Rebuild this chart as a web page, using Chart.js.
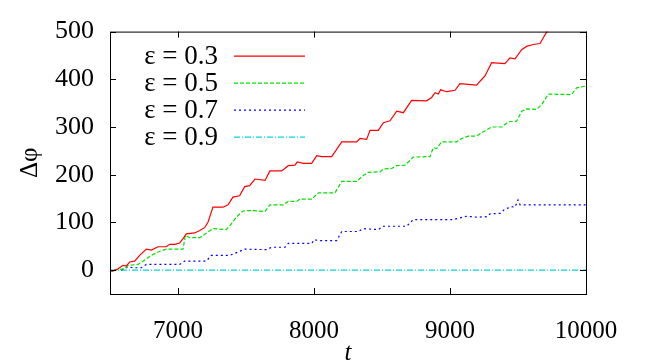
<!DOCTYPE html>
<html>
<head>
<meta charset="utf-8">
<script src="https://cdn.jsdelivr.net/npm/chart.js@4.4.1/dist/chart.umd.min.js"></script>
<style>
  body { margin: 0; background: #fff; }
  #wrap { width: 648px; height: 362px; }
</style>
</head>
<body>
<div id="wrap"><canvas id="chart"></canvas></div>
<script>
// eps = 0.3
const t03 = [6510, 6559, 6596, 6620, 6645, 6681, 6718, 6767, 6804, 6853, 6914, 6939, 6976, 7012, 7037, 7061,
    7123, 7160, 7196, 7221, 7257, 7331, 7368, 7404, 7453, 7490, 7527, 7566, 7640, 7676, 7762, 7811, 7860,
    7877, 7922, 7983, 8020, 8057, 8130, 8204, 8314, 8338, 8387, 8412, 8473, 8510, 8559, 8608, 8657, 8718,
    8828, 8865, 8890, 8914, 8931, 8976, 9037, 9073, 9196, 9221, 9257, 9306, 9404, 9441, 9478, 9527, 9563,
    9612, 9662, 9686, 9711, 9760];
const phi03 = [-3, 3, 10, 9, 17, 19, 31, 44, 42, 49, 49, 54, 54, 57, 66, 76,
    78, 83, 89, 101, 132, 132, 137, 153, 156, 175, 177, 191, 188, 208, 208, 219, 220,
    227, 224, 224, 240, 238, 238, 269, 269, 276, 274, 293, 293, 309, 313, 333, 330, 356,
    355, 362, 372, 369, 378, 374, 377, 391, 388, 396, 407, 435, 433, 445, 443, 462, 469,
    473, 475, 487, 499, 515];

// eps = 0.5
const t05 = [6530, 6608, 6632, 6706, 6755, 6804, 6853, 6914, 7037, 7054, 7086, 7160, 7196, 7257, 7355, 7392,
    7429, 7478, 7529, 7640, 7676, 7774, 7811, 7873, 7897, 7983, 8032, 8154, 8204, 8314, 8351, 8399, 8485,
    8510, 8571, 8608, 8669, 8730, 8853, 8877, 8902, 8939, 9049, 9086, 9135, 9196, 9233, 9270, 9306, 9380,
    9429, 9490, 9527, 9563, 9637, 9674, 9723, 9894, 9931, 10000];
const phi05 = [0, 3, 10, 12, 21, 31, 38, 44, 44, 73, 68, 68, 75, 87, 85, 97,
    111, 124, 125, 123, 137, 137, 144, 144, 149, 149, 162, 162, 186, 186, 196, 205, 206,
    212, 213, 219, 220, 237, 238, 257, 255, 269, 269, 276, 281, 281, 288, 294, 300, 300,
    311, 312, 333, 338, 337, 347, 369, 368, 382, 386];

// eps = 0.7
const t07 = [6583, 6632, 6669, 6730, 6767, 7012, 7049, 7208, 7245, 7380, 7417, 7490, 7652, 7689, 7787, 7811,
    7983, 8002, 8032, 8167, 8204, 8326, 8363, 8473, 8510, 8681, 8730, 9024, 9123, 9196, 9270, 9294, 9368,
    9404, 9453, 9478, 9500, 9515, 10000];
const phi07 = [0, 7, 5, 5, 12, 12, 19, 19, 31, 31, 35, 44, 43, 48, 48, 56,
    56, 64, 62, 62, 81, 81, 87, 85, 92, 92, 106, 106, 113, 111, 112, 118, 119,
    128, 133, 132, 147, 137, 137];

// eps = 0.9
const t09 = [6500, 10000];
const phi09 = [0, 0];

const seriesLabels = ['ε = 0.3', 'ε = 0.5', 'ε = 0.7', 'ε = 0.9'];
const xTicks = [7000, 8000, 9000, 10000];
const yTicks = [0, 100, 200, 300, 400, 500];

const serif = '"Liberation Serif", "DejaVu Serif", serif';

function pts(ts, vs) {
    return ts.map((t, i) => ({ x: t, y: vs[i] }));
}

function makeSet(label, ts, vs, color, dash) {
    return {
        label,
        data: pts(ts, vs),
        borderColor: color,
        backgroundColor: color,
        borderWidth: 1.2,
        borderDash: dash,
        pointRadius: 0,
        tension: 0,
        fill: false
    };
}

// frame with inward ticks + legend drawn gnuplot style (text left, sample right)
const framePlugin = {
    id: 'frame',
    afterDraw(chart) {
        const { ctx, chartArea: a, scales } = chart;
        ctx.save();
        ctx.strokeStyle = '#000';
        ctx.lineWidth = 1;
        ctx.setLineDash([]);
        ctx.strokeRect(a.left + 0.5, a.top + 0.5, a.right - a.left, a.bottom - a.top);
        ctx.beginPath();
        xTicks.forEach(v => {
            const px = Math.round(scales.x.getPixelForValue(v)) + 0.5;
            ctx.moveTo(px, a.bottom); ctx.lineTo(px, a.bottom - 6);
            ctx.moveTo(px, a.top); ctx.lineTo(px, a.top + 6);
        });
        yTicks.forEach(v => {
            const py = Math.round(scales.y.getPixelForValue(v)) + 0.5;
            ctx.moveTo(a.left, py); ctx.lineTo(a.left + 6, py);
            ctx.moveTo(a.right, py); ctx.lineTo(a.right - 6, py);
        });
        ctx.stroke();

        // legend
        ctx.font = '27px ' + serif;
        ctx.textAlign = 'right';
        ctx.textBaseline = 'middle';
        chart.data.datasets.forEach((ds, i) => {
            const y = a.top + 24 + i * 27;
            ctx.fillStyle = '#000';
            ctx.fillText(ds.label, a.left + 108, y + 1);
            ctx.strokeStyle = ds.borderColor;
            ctx.lineWidth = 1.2;
            ctx.setLineDash(ds.borderDash || []);
            ctx.beginPath();
            ctx.moveTo(a.left + 124, y + 0.5);
            ctx.lineTo(a.left + 195, y + 0.5);
            ctx.stroke();
        });
        ctx.restore();
    }
};

new Chart(document.getElementById('chart'), {
    type: 'line',
    data: {
        datasets: [
            makeSet(seriesLabels[0], t03, phi03, '#ff0000', []),
            makeSet(seriesLabels[1], t05, phi05, '#00e000', [4, 2]),
            makeSet(seriesLabels[2], t07, phi07, '#0000ff', [2, 3]),
            makeSet(seriesLabels[3], t09, phi09, '#00d8e0', [6, 2, 1, 2])
        ]
    },
    options: {
        responsive: true,
        maintainAspectRatio: false,
        animation: false,
        devicePixelRatio: 1,
        layout: { padding: { top: 30, right: 62, left: 0, bottom: 0 } },
        plugins: {
            legend: { display: false },
            tooltip: { enabled: false }
        },
        scales: {
            x: {
                type: 'linear',
                min: 6500,
                max: 10000,
                afterBuildTicks: s => { s.ticks = xTicks.map(v => ({ value: v })); },
                afterFit: s => { s.height = 68; },
                grid: { display: false, drawTicks: false },
                border: { display: false },
                ticks: {
                    padding: 22,
                    color: '#000',
                    font: { family: serif, size: 25 },
                    maxRotation: 0,
                    callback: v => String(v)
                },
                title: {
                    display: true,
                    text: 't',
                    color: '#000',
                    font: { family: serif, size: 25, style: 'italic' },
                    padding: { top: 0, bottom: -6 }
                }
            },
            y: {
                type: 'linear',
                min: -50,
                max: 500,
                afterBuildTicks: s => { s.ticks = yTicks.map(v => ({ value: v })); },
                afterFit: s => { s.width = 110; },
                grid: { display: false, drawTicks: false },
                border: { display: false },
                ticks: {
                    padding: 16,
                    color: '#000',
                    font: { family: serif, size: 26 },
                    callback: v => String(v)
                },
                title: {
                    display: true,
                    text: 'Δφ',
                    color: '#000',
                    font: { family: serif, size: 25 },
                    padding: { top: 15, bottom: 0 }
                }
            }
        }
    },
    plugins: [framePlugin]
});
</script>
</body>
</html>
